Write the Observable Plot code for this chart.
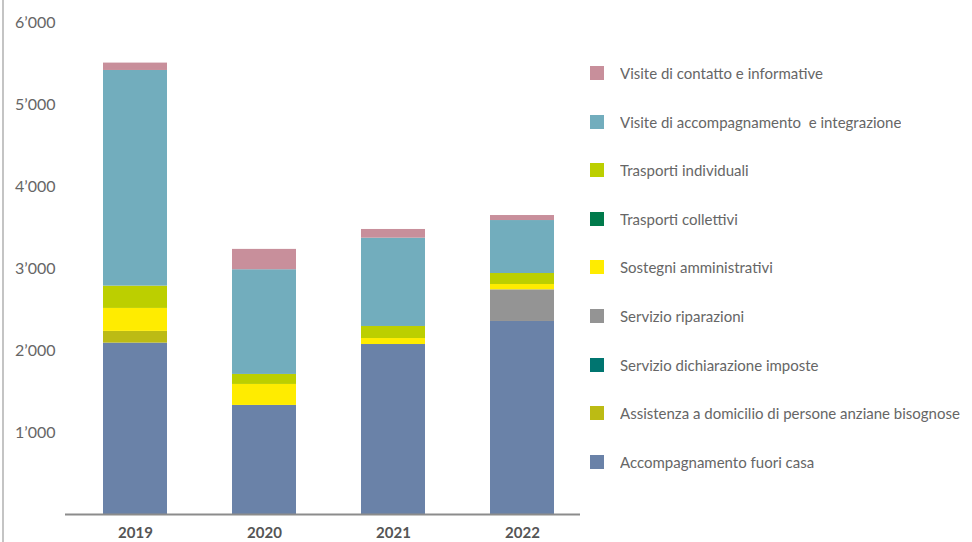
<!DOCTYPE html>
<html><head><meta charset="utf-8">
<script src="https://cdn.jsdelivr.net/npm/d3@7"></script>
<script src="https://cdn.jsdelivr.net/npm/@observablehq/plot@0.6"></script>
<style>
html,body{margin:0;padding:0;background:#fff;}
#wrap{position:relative;width:972px;height:542px;overflow:hidden;font-family:Lato,"Open Sans",sans-serif;}
#chart svg{display:block;}
#vline{position:absolute;left:2px;top:0;width:2px;height:542px;background:#c4c4c4;}
#legend{position:absolute;left:590px;top:48.7px;width:390px;}
#legend .lg-swatches{font-family:Lato,"Open Sans",sans-serif !important;font-size:15px !important;color:#666 !important;margin:0 !important;}
#legend .lg-swatch{height:48.6px;padding-bottom:0 !important;white-space:pre !important;}
#legend .lg-swatch *{white-space:pre !important;}
#legend .lg-swatch svg{margin-right:16px !important;}
</style></head>
<body><div id="wrap"><div id="chart"></div><div id="vline"></div><div id="legend"></div></div>
<script>
const years = ["2019", "2020", "2021", "2022"];
// stack order, bottom to top
const seriesNames = [
  "Accompagnamento fuori casa",
  "Assistenza a domicilio di persone anziane bisognose",
  "Servizio dichiarazione imposte",
  "Servizio riparazioni",
  "Sostegni amministrativi",
  "Trasporti collettivi",
  "Trasporti individuali",
  "Visite di accompagnamento  e integrazione",
  "Visite di contatto e informative"
];
const seriesColors = ["#6a82a8", "#bcbb14", "#007570", "#949494", "#ffec00", "#007a4b", "#bccf00", "#72adbd", "#c88f9b"];
const accompagnamento = [2090, 1330, 2073, 2354];
const assistenza = [143, 0, 0, 0];
const dichiarazione = [0, 0, 0, 0];
const riparazioni = [0, 0, 0, 386];
const sostegni = [280, 256, 73, 65];
const trasportiCollettivi = [0, 0, 0, 0];
const trasportiIndividuali = [272, 122, 147, 134];
const visiteAccompagnamento = [2630, 1277, 1077, 646];
const visiteContatto = [90, 248, 106, 61];
const yTicks = [1000, 2000, 3000, 4000, 5000, 6000];

const seriesValues = [accompagnamento, assistenza, dichiarazione, riparazioni, sostegni,
  trasportiCollettivi, trasportiIndividuali, visiteAccompagnamento, visiteContatto];
const rows = [];
seriesNames.forEach((s, i) => years.forEach((y, j) => {
  if (seriesValues[i][j] > 0) rows.push({year: y, series: s, value: seriesValues[i][j]});
}));

const fmt = d3.formatLocale({thousands: "\u2019", grouping: [3], decimal: "."}).format(",");

const chart = Plot.plot({
  width: 972, height: 542,
  marginLeft: 65, marginRight: 392, marginTop: 22, marginBottom: 28,
  style: {fontFamily: "Lato, 'Open Sans', sans-serif", background: "#fff", overflow: "visible"},
  x: {domain: years, paddingInner: 0.504, paddingOuter: 0.248, align: 0.6, label: null},
  y: {domain: [0, 6000], label: null},
  color: {domain: seriesNames, range: seriesColors},
  marks: [
    Plot.barY(rows, {x: "year", y: "value", fill: "series", order: seriesNames}),
    Plot.ruleY([0], {stroke: "#8c8c8c", strokeWidth: 2}),
    Plot.axisY({ticks: yTicks, tickSize: 0, tickPadding: 10, tickFormat: fmt, fontSize: 16, fill: "#666", label: null}),
    Plot.axisX({tickSize: 0, tickPadding: 13, fontSize: 15, fontWeight: "bold", fill: "#555", label: null})
  ]
});
document.getElementById("chart").appendChild(chart);

const legend = Plot.legend({
  color: {domain: seriesNames.slice().reverse(), range: seriesColors.slice().reverse()},
  legend: "swatches", columns: 1, swatchSize: 14, className: "lg"
});
document.getElementById("legend").appendChild(legend);
</script>
</body></html>
